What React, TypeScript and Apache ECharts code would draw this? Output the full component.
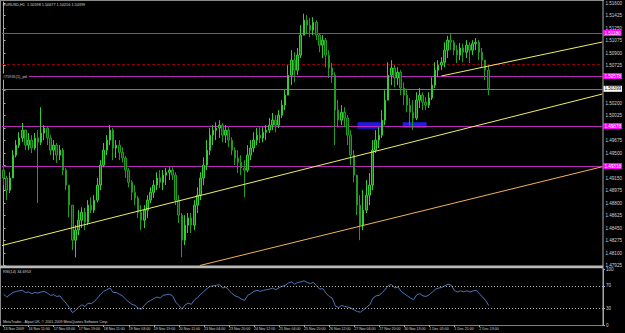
import React, { useEffect, useRef } from "react";
import * as echarts from "echarts";

// ---------- data ----------
const TOTAL_BINS = 192; // 2-hour slots across the plot width (incl. empty right margin)
const LABEL_EVERY = 8;
const timeLabels = [
  "13 Nov 2009", "16 Nov 11:00", "17 Nov 03:00", "17 Nov 19:00", "18 Nov 11:00",
  "19 Nov 03:00", "19 Nov 19:00", "20 Nov 11:00", "23 Nov 04:00", "23 Nov 20:00",
  "24 Nov 12:00", "25 Nov 04:00", "25 Nov 20:00", "26 Nov 12:00", "27 Nov 04:00",
  "27 Nov 20:00", "30 Nov 13:00", "1 Dec 05:00", "1 Dec 21:00", "2 Dec 13:00",
];

const FIRST_OPEN = 1.4926;
const closes = [
  1.4915, 1.4898, 1.4915, 1.4947, 1.4961, 1.4971, 1.4982, 1.4961, 1.4968, 1.4957,
  1.4971, 1.4965, 1.4978, 1.4985, 1.4971, 1.4954, 1.4961, 1.4947, 1.4954, 1.4926,
  1.4905, 1.4877, 1.4828, 1.4842, 1.4856, 1.4867, 1.4853, 1.4877, 1.4870, 1.4884,
  1.4905, 1.4933, 1.4954, 1.4968, 1.4982, 1.4957, 1.4961, 1.4951, 1.4943, 1.4926,
  1.4909, 1.4895, 1.4887, 1.4867, 1.4856, 1.4870, 1.4884, 1.4895, 1.4905, 1.4915,
  1.4909, 1.4919, 1.4923, 1.4926, 1.4919, 1.4884, 1.4863, 1.4828, 1.4849, 1.4859,
  1.4849, 1.4877, 1.4891, 1.4915, 1.4933, 1.4954, 1.4975, 1.4982, 1.4985, 1.4989,
  1.4975, 1.4982, 1.4968, 1.4954, 1.4943, 1.4937, 1.4929, 1.4926, 1.4947, 1.4957,
  1.4968, 1.4975, 1.4971, 1.4979, 1.4982, 1.4989, 1.4996, 1.4989, 1.5003, 1.5017,
  1.5031, 1.5059, 1.5080, 1.5066, 1.5087, 1.5115, 1.5136, 1.5129, 1.5122, 1.5133,
  1.5115, 1.5101, 1.5108, 1.5087, 1.5069, 1.5059, 1.5010, 1.4996, 1.5007, 1.4999,
  1.4975, 1.4947, 1.4919, 1.4877, 1.4849, 1.4870, 1.4891, 1.4905, 1.4954, 1.4968,
  1.4975, 1.4996, 1.5024, 1.5059, 1.5069, 1.5055, 1.5063, 1.5041, 1.5031, 1.5017,
  1.5007, 1.4999, 1.5024, 1.5031, 1.5021, 1.5017, 1.5027, 1.5045, 1.5066, 1.5073,
  1.5077, 1.5094, 1.5108, 1.5105, 1.5094, 1.5087, 1.5097, 1.5091, 1.5101, 1.5094,
  1.5103, 1.5105, 1.5091, 1.5080, 1.5066, 1.5040,
];
const highs = [
  1.4933, 1.4918, 1.4923, 1.4954, 1.4968, 1.4979, 1.4992, 1.4982, 1.4978, 1.4975,
  1.4978, 1.4982, 1.5014, 1.4989, 1.4986, 1.4975, 1.4968, 1.4964, 1.4961, 1.4957,
  1.4929, 1.4905, 1.4877, 1.4849, 1.4870, 1.4874, 1.4873, 1.4884, 1.4888, 1.4891,
  1.4915, 1.4940, 1.4964, 1.4975, 1.4989, 1.4985, 1.4968, 1.4968, 1.4958, 1.4946,
  1.4929, 1.4912, 1.4905, 1.4890, 1.4877, 1.4877, 1.4891, 1.4902, 1.4912, 1.4923,
  1.4926, 1.4926, 1.4929, 1.4930, 1.4930, 1.4923, 1.4891, 1.4866, 1.4863, 1.4866,
  1.4866, 1.4884, 1.4902, 1.4923, 1.4944, 1.4968, 1.4985, 1.4989, 1.4993, 1.4996,
  1.4992, 1.4989, 1.4986, 1.4972, 1.4958, 1.4954, 1.4947, 1.4940, 1.4961, 1.4968,
  1.4979, 1.4985, 1.4986, 1.4986, 1.4989, 1.4999, 1.5006, 1.5003, 1.5010, 1.5024,
  1.5038, 1.5073, 1.5094, 1.5091, 1.5097, 1.5129, 1.5145, 1.5143, 1.5139, 1.5140,
  1.5136, 1.5118, 1.5115, 1.5111, 1.5094, 1.5076, 1.5063, 1.5024, 1.5017, 1.5014,
  1.5003, 1.4982, 1.4954, 1.4919, 1.4891, 1.4898, 1.4912, 1.4922, 1.4968, 1.4982,
  1.4986, 1.5010, 1.5038, 1.5077, 1.5080, 1.5073, 1.5070, 1.5066, 1.5049, 1.5038,
  1.5027, 1.5024, 1.5035, 1.5041, 1.5035, 1.5028, 1.5035, 1.5056, 1.5077, 1.5080,
  1.5084, 1.5105, 1.5114, 1.5118, 1.5108, 1.5101, 1.5104, 1.5103, 1.5108, 1.5105,
  1.5108, 1.5111, 1.5108, 1.5097, 1.5080, 1.5073,
];
const lows = [
  1.4905, 1.4884, 1.4894, 1.4915, 1.4944, 1.4957, 1.4965, 1.4954, 1.4954, 1.4950,
  1.4954, 1.4880, 1.4961, 1.4968, 1.4961, 1.4947, 1.4940, 1.4936, 1.4940, 1.4919,
  1.4898, 1.4860, 1.4814, 1.4804, 1.4835, 1.4845, 1.4842, 1.4849, 1.4866, 1.4866,
  1.4881, 1.4898, 1.4930, 1.4947, 1.4961, 1.4940, 1.4943, 1.4940, 1.4937, 1.4915,
  1.4902, 1.4884, 1.4877, 1.4859, 1.4842, 1.4845, 1.4859, 1.4880, 1.4887, 1.4898,
  1.4901, 1.4898, 1.4905, 1.4912, 1.4912, 1.4877, 1.4852, 1.4804, 1.4821, 1.4838,
  1.4838, 1.4842, 1.4866, 1.4884, 1.4905, 1.4926, 1.4947, 1.4961, 1.4968, 1.4971,
  1.4965, 1.4964, 1.4958, 1.4947, 1.4933, 1.4922, 1.4919, 1.4888, 1.4923, 1.4940,
  1.4951, 1.4961, 1.4964, 1.4965, 1.4968, 1.4978, 1.4982, 1.4979, 1.4985, 1.4999,
  1.5010, 1.5031, 1.5045, 1.5049, 1.5059, 1.5083, 1.5115, 1.5118, 1.5112, 1.5115,
  1.5108, 1.5091, 1.5083, 1.5070, 1.5055, 1.5048, 1.4961, 1.4986, 1.4989, 1.4986,
  1.4961, 1.4933, 1.4909, 1.4863, 1.4828, 1.4842, 1.4866, 1.4877, 1.4898, 1.4950,
  1.4957, 1.4971, 1.4989, 1.5024, 1.5045, 1.5042, 1.5045, 1.5031, 1.5017, 1.5007,
  1.4989, 1.4982, 1.4996, 1.5013, 1.5010, 1.5010, 1.5013, 1.5024, 1.5041, 1.5056,
  1.5066, 1.5070, 1.5083, 1.5094, 1.5087, 1.5076, 1.5080, 1.5077, 1.5083, 1.5076,
  1.5087, 1.5094, 1.5080, 1.5070, 1.5052, 1.5031,
];
const rsi = [
  55, 50, 54, 58, 60, 61, 62, 58, 59, 56,
  58, 57, 59, 60, 57, 53, 54, 51, 52, 45,
  39, 31, 22, 26, 32, 36, 33, 39, 38, 42,
  48, 55, 60, 63, 66, 58, 58, 55, 52, 46,
  41, 37, 35, 30, 28, 35, 41, 44, 47, 50,
  48, 53, 54, 55, 52, 41, 35, 28, 36, 39,
  37, 45, 49, 55, 60, 65, 69, 70, 71, 72,
  66, 68, 62, 56, 52, 50, 46, 44, 53, 56,
  60, 62, 60, 62, 63, 64, 66, 63, 67, 69,
  71, 75, 77, 73, 76, 77, 79, 76, 74, 76,
  70, 64, 65, 57, 51, 48, 34, 31, 35, 33,
  32, 30, 27, 24, 23, 27, 32, 36, 48, 52,
  53, 58, 64, 71, 72, 66, 68, 60, 56, 52,
  48, 45, 54, 56, 52, 51, 54, 59, 64, 66,
  67, 70, 73, 71, 62, 59, 61, 59, 61, 59,
  61, 62, 56, 50, 44, 34.6953,
];

const PRICE_MIN = 1.47925;
const PRICE_MAX = 1.51614;
const priceTicks = [
  1.47925, 1.481, 1.48275, 1.4845, 1.48625, 1.488, 1.48975, 1.4915, 1.49325, 1.495, 1.49675,
  1.4985, 1.50025, 1.502, 1.50375, 1.5055, 1.50725, 1.509, 1.51075, 1.5125, 1.51425, 1.516,
];
const rsiTicks = [0, 30, 70, 100];
const rsiLevels = [70, 30];

const magentaLevels = [1.5118, 1.50578, 1.49878, 1.49318];
const stopLevel = 1.50746;
const bidPrice = 1.50399;
const titleOHLC = [1.50598, 1.50677, 1.50216, 1.50399];

// trend lines: [slot, price] end points
const yellowLine1 = [[-0.5, 1.48205], [191.5, 1.50326]];
const yellowLine2 = [[140, 1.50578], [191.5, 1.51054]];
const orangeLine = [[62.75, 1.47925], [191.5, 1.49308]];
// boxes: [slotFrom, slotTo, priceTop, priceBottom]
const boxes = [
  [113.2, 120.6, 1.4993, 1.4984],
  [127.6, 135.3, 1.4993, 1.4985],
];

// ---------- component ----------
export default function App() {
  const ref = useRef<HTMLDivElement>(null);

  useEffect(() => {
    const el = ref.current;
    if (!el) return;
    const chart = echarts.init(el, null, { renderer: "svg" });

    const categories = Array.from({ length: TOTAL_BINS }, (_, i) => String(i));
    const candleData = closes.map((c, i) => [i === 0 ? FIRST_OPEN : closes[i - 1], c, lows[i], highs[i]]);
    const showTime = (index: number) => index % LABEL_EVERY === 0 && index / LABEL_EVERY < timeLabels.length;

    // tick labels hidden behind the highlighted level labels (as on the terminal)
    const labelledLevels = [...magentaLevels, bidPrice];
    const visiblePriceTicks = priceTicks.filter(
      (t) => !labelledLevels.some((l) => Math.abs(l - t) < 0.0004)
    );

    const FONT = "Liberation Sans";
    const axisGray = "#a8a8a8";
    const txt = "#d4d4d4";

    const levelLabel = (bg: string, fg: string, v: number) => ({
      show: true,
      position: "end",
      distance: 1,
      formatter: v.toFixed(5),
      backgroundColor: bg,
      color: fg,
      fontSize: 4.6,
      fontFamily: FONT,
      padding: [0.5, 1, 0.5, 1],
    });

    const option: any = {
      animation: false,
      backgroundColor: "#000000",
      grid: [
        { left: 2, right: 22, top: 2, height: 263.5 },
        { left: 2, right: 22, top: 269, height: 56 },
      ],
      xAxis: [
        { type: "category", gridIndex: 0, data: categories, show: false },
        { type: "value", gridIndex: 0, min: -0.5, max: TOTAL_BINS - 0.5, show: false },
        {
          type: "category",
          gridIndex: 1,
          data: categories,
          axisLine: { show: true, lineStyle: { color: "#808080", width: 1 } },
          axisTick: { show: true, interval: showTime, alignWithLabel: true, length: 2, lineStyle: { color: axisGray } },
          axisLabel: {
            interval: showTime,
            formatter: (_v: string, index: number) => timeLabels[index / LABEL_EVERY] ?? "",
            align: "left",
            margin: 2,
            fontSize: 3.6,
            fontFamily: FONT,
            color: txt,
          },
          splitLine: { show: false },
        },
      ],
      yAxis: [
        {
          type: "value",
          gridIndex: 0,
          position: "right",
          min: PRICE_MIN,
          max: PRICE_MAX,
          scale: true,
          splitLine: { show: false },
          axisLine: { show: true, lineStyle: { color: axisGray } },
          axisTick: { show: true, customValues: priceTicks, length: 2, lineStyle: { color: axisGray } },
          axisLabel: {
            customValues: visiblePriceTicks,
            formatter: (v: number) => v.toFixed(5),
            fontSize: 4.6,
            fontFamily: FONT,
            color: txt,
            margin: 3,
          },
        },
        {
          type: "value",
          gridIndex: 1,
          position: "right",
          min: 0,
          max: 100,
          splitLine: { show: false },
          axisLine: { show: true, lineStyle: { color: axisGray } },
          axisTick: { show: true, customValues: rsiTicks, length: 2, lineStyle: { color: axisGray } },
          axisLabel: {
            customValues: rsiTicks,
            formatter: (v: number) => String(v),
            fontSize: 4.6,
            fontFamily: FONT,
            color: txt,
            margin: 3,
          },
        },
      ],
      series: [
        {
          type: "custom",
          name: "boxes",
          xAxisIndex: 1,
          yAxisIndex: 0,
          silent: true,
          z: 1,
          data: boxes,
          encode: { x: [0, 1], y: [2, 3] },
          renderItem: (_p: any, api: any) => {
            const a = api.coord([api.value(0), api.value(2)]);
            const b = api.coord([api.value(1), api.value(3)]);
            return {
              type: "rect",
              shape: { x: a[0], y: a[1], width: b[0] - a[0], height: b[1] - a[1] },
              style: { fill: "#1c1cf2" },
            };
          },
        },
        {
          type: "candlestick",
          name: "EURUSD",
          xAxisIndex: 0,
          yAxisIndex: 0,
          z: 3,
          barWidth: 2,
          data: candleData,
          itemStyle: {
            color: "#0f6e0f",
            color0: "#0a480a",
            borderColor: "#36cc36",
            borderColor0: "#1f9c1f",
            borderWidth: 1,
          },
          markLine: {
            silent: true,
            symbol: ["none", "none"],
            animation: false,
            precision: 5,
            z: 2,
            data: [
              ...magentaLevels.map((v) => ({
                yAxis: v,
                lineStyle: { color: "#b82ab8", width: 1, type: "solid" },
                label: levelLabel("#ff00ff", "#ffffff", v),
              })),
              {
                yAxis: stopLevel,
                lineStyle: { color: "#8c0000", width: 1, type: [3, 2] },
                label: { show: false },
              },
              {
                yAxis: bidPrice,
                lineStyle: { color: "#787878", width: 1, type: "solid" },
                label: levelLabel("#ffffff", "#000000", bidPrice),
              },
            ],
          },
        },
        {
          type: "line",
          name: "trend1",
          xAxisIndex: 1,
          yAxisIndex: 0,
          symbol: "none",
          silent: true,
          z: 4,
          data: yellowLine1,
          lineStyle: { color: "#f0f05a", width: 1 },
        },
        {
          type: "line",
          name: "trend2",
          xAxisIndex: 1,
          yAxisIndex: 0,
          symbol: "none",
          silent: true,
          z: 4,
          data: yellowLine2,
          lineStyle: { color: "#f0f05a", width: 1 },
        },
        {
          type: "line",
          name: "channel",
          xAxisIndex: 1,
          yAxisIndex: 0,
          symbol: "none",
          silent: true,
          z: 4,
          data: orangeLine,
          lineStyle: { color: "#f2b25a", width: 1 },
        },
        {
          type: "line",
          name: "RSI(14)",
          xAxisIndex: 2,
          yAxisIndex: 1,
          symbol: "none",
          silent: true,
          data: rsi,
          lineStyle: { color: "#4e74b8", width: 1 },
          markLine: {
            silent: true,
            symbol: ["none", "none"],
            animation: false,
            precision: 2,
            label: { show: false },
            lineStyle: { color: "#b4b4b4", width: 1, type: [1, 2] },
            data: rsiLevels.map((v) => ({ yAxis: v })),
          },
        },
      ],
      graphic: [
        { type: "rect", silent: true, z: 10, shape: { x: 0, y: 0, width: 604, height: 1 }, style: { fill: "#8a8a8a" } },
        { type: "rect", silent: true, z: 10, shape: { x: 0, y: 0, width: 1, height: 326 }, style: { fill: "#8a8a8a" } },
        { type: "rect", silent: true, z: 10, shape: { x: 602.5, y: 0, width: 1, height: 326 }, style: { fill: axisGray } },
        { type: "rect", silent: true, z: 10, shape: { x: 0, y: 265.6, width: 603, height: 2.6 }, style: { fill: "#b8b8b8" } },
        {
          type: "text",
          silent: true,
          z: 10,
          x: 3,
          y: 4.5,
          style: {
            text: "EURUSD,H1  " + titleOHLC.map((v) => v.toFixed(5)).join(" "),
            fill: txt,
            fontSize: 3.8,
            fontFamily: FONT,
            verticalAlign: "middle",
          },
        },
        {
          type: "text",
          silent: true,
          z: 10,
          x: 2,
          y: 76.6,
          style: {
            text: "#75931(1)_pd",
            fill: "#c8c8c8",
            fontSize: 3.8,
            fontFamily: FONT,
            verticalAlign: "middle",
            backgroundColor: "#000000",
            padding: [1, 2, 1, 1],
          },
        },
        {
          type: "text",
          silent: true,
          z: 10,
          x: 3,
          y: 272,
          style: {
            text: "RSI(14) " + rsi[rsi.length - 1].toFixed(4),
            fill: txt,
            fontSize: 3.8,
            fontFamily: FONT,
            verticalAlign: "middle",
          },
        },
        {
          type: "text",
          silent: true,
          z: 10,
          x: 3,
          y: 321.7,
          style: {
            text: "MetaTrader - Alpari UK, © 2001-2009 MetaQuotes Software Corp.",
            fill: txt,
            fontSize: 3.6,
            fontFamily: FONT,
            verticalAlign: "middle",
          },
        },
      ],
    };

    chart.setOption(option);
    return () => chart.dispose();
  }, []);

  return (
    <div
      ref={ref}
      style={{ position: "fixed", left: 0, top: 0, width: 625, height: 333, background: "#000000" }}
    />
  );
}
